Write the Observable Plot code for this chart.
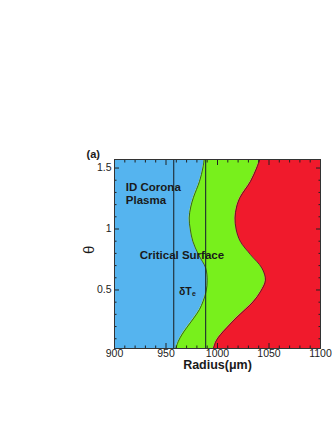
<!DOCTYPE html>
<html>
<head>
<meta charset="utf-8">
<script src="https://cdn.jsdelivr.net/npm/d3@7"></script>
<script src="https://cdn.jsdelivr.net/npm/@observablehq/plot@0.6"></script>
<style>
  html, body { margin: 0; padding: 0; background: #fff; }
  svg { font-family: "Liberation Sans", Arial, sans-serif; }
</style>
</head>
<body>
<div id="chart"></div>
<script>
// θ values (rad) and boundary radii (µm)
const theta = [0.02, 0.08, 0.134, 0.19, 0.27, 0.34, 0.407, 0.49, 0.58, 0.68, 0.79, 0.9, 1.0, 1.09, 1.18, 1.26, 1.39, 1.5, 1.57];
const criticalR = [959.5, 962, 965.5, 970, 977, 982.5, 986, 989, 990, 988.5, 981.5, 976, 973.5, 972.5, 974, 976.7, 982.5, 985.8, 987];
const ablationR = [996, 998.5, 1003, 1009, 1018, 1027, 1035, 1042, 1046.5, 1043, 1032, 1022, 1018, 1017, 1018.5, 1022, 1032, 1038, 1041];
const deltaLines = [957.5, 988.5];
const xMajor = [900, 950, 1000, 1050, 1100];
const xMinor = [910, 920, 930, 940, 960, 970, 980, 990, 1010, 1020, 1030, 1040, 1060, 1070, 1080, 1090];
const yMajor = [0.5, 1, 1.5];
const yMinor = [0.1, 0.2, 0.3, 0.4, 0.6, 0.7, 0.8, 0.9, 1.1, 1.2, 1.3, 1.4];
const xDomain = [900, 1100];
const yDomain = [0.02, 1.57];

const rows = theta.map((t, i) => ({theta: t, rc: criticalR[i], ra: ablationR[i]}));

const blue = "#55b4ef", green = "#78f01c", red = "#f01a2c";

const plot = Plot.plot({
  width: 332,
  height: 430,
  marginLeft: 114,
  marginRight: 12,
  marginTop: 159,
  marginBottom: 82,
  style: {fontFamily: "'Liberation Sans', Arial, sans-serif", fontSize: "10px", color: "#222"},
  x: {domain: xDomain},
  y: {domain: yDomain},
  marks: [
    Plot.areaX(rows, {y: "theta", x1: xDomain[0], x2: "rc", fill: blue, curve: "catmull-rom"}),
    Plot.areaX(rows, {y: "theta", x1: "rc", x2: "ra", fill: green, curve: "catmull-rom"}),
    Plot.areaX(rows, {y: "theta", x1: "ra", x2: xDomain[1], fill: red, curve: "catmull-rom"}),
    Plot.lineX(rows, {y: "theta", x: "rc", stroke: "#2a3a20", strokeWidth: 0.8, curve: "catmull-rom"}),
    Plot.lineX(rows, {y: "theta", x: "ra", stroke: "#3a2020", strokeWidth: 0.8, curve: "catmull-rom"}),
    Plot.ruleX(deltaLines, {stroke: "#1e2a30", strokeWidth: 1.1}),
    // axes: labels
    Plot.axisX(xMajor, {anchor: "bottom", tickSize: 0, tickPadding: 1, label: null, tickFormat: d => String(d), fontSize: 10.5}),
    Plot.axisY(yMajor, {anchor: "left", tickSize: 0, tickPadding: 3, label: null, tickFormat: d => String(d), fontSize: 10.5}),
    // inward ticks
    Plot.axisX(xMajor, {anchor: "bottom", tickSize: -5, label: null, tickFormat: () => ""}),
    Plot.axisX(xMajor, {anchor: "top", tickSize: -5, label: null, tickFormat: () => ""}),
    Plot.axisX(xMinor, {anchor: "bottom", tickSize: -2.5, label: null, tickFormat: () => ""}),
    Plot.axisX(xMinor, {anchor: "top", tickSize: -2.5, label: null, tickFormat: () => ""}),
    Plot.axisY(yMajor, {anchor: "left", tickSize: -5, label: null, tickFormat: () => ""}),
    Plot.axisY(yMajor, {anchor: "right", tickSize: -5, label: null, tickFormat: () => ""}),
    Plot.axisY(yMinor, {anchor: "left", tickSize: -2.5, label: null, tickFormat: () => ""}),
    Plot.axisY(yMinor, {anchor: "right", tickSize: -2.5, label: null, tickFormat: () => ""}),
    Plot.frame({stroke: "#333", strokeWidth: 1}),
    // annotations
    Plot.text(["ID Corona\nPlasma"], {x: 911, y: 1.29, text: d => d, textAnchor: "start", fontWeight: "bold", fontSize: 11.5, lineHeight: 1.15, fill: "#1a1a1a"}),
    Plot.text(["Critical Surface"], {x: 924.5, y: 0.784, text: d => d, textAnchor: "start", fontWeight: "bold", fontSize: 11.5, fill: "#1a1a1a"}),
    Plot.text(["δT"], {x: 962.5, y: 0.49, text: d => d, textAnchor: "start", fontWeight: "bold", fontSize: 10.5, fill: "#1a1a1a"}),
    Plot.text(["e"], {x: 962.5, y: 0.49, text: d => d, textAnchor: "start", dx: 13, dy: 3, fontWeight: "bold", fontSize: 7, fill: "#1a1a1a"}),
    Plot.text(["(a)"], {frameAnchor: "top-left", text: d => d, textAnchor: "start", dx: -28, dy: -9, fontWeight: "bold", fontSize: 11, fill: "#1a1a1a"}),
    Plot.text(["θ"], {frameAnchor: "left", text: d => d, dx: -25, dy: 0, rotate: -90, fontSize: 15, fill: "#1a1a1a"}),
    Plot.text(["Radius(μm)"], {frameAnchor: "bottom", text: d => d, dx: 0, dy: 20, fontWeight: "bold", fontSize: 12.5, fill: "#1a1a1a"})
  ]
});
document.getElementById("chart").appendChild(plot);
</script>
</body>
</html>
